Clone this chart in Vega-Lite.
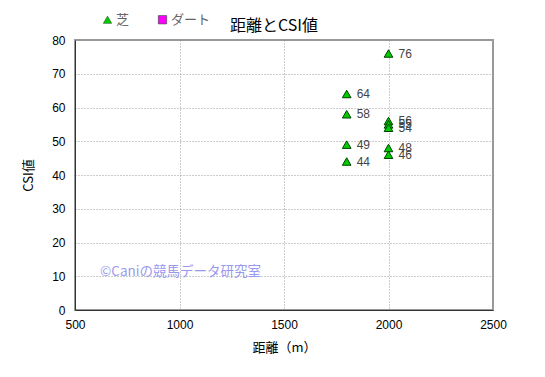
{
  "$schema": "https://vega.github.io/schema/vega-lite/v6.json",
  "width": 418,
  "height": 270,
  "autosize": {"type": "none"},
  "padding": {"left": 75, "top": 40, "right": 52, "bottom": 67},
  "background": "white",
  "title": {"text": "距離とCSI値", "anchor": "middle", "dx": -10, "offset": -21, "fontSize": 16, "fontWeight": "normal", "font": "Noto Sans CJK JP", "color": "#000000"},
  "config": {
    "view": {"stroke": "#999999", "strokeWidth": 2},
    "font": "Liberation Sans",
    "axis": {"grid": true, "gridColor": "#999999", "gridDash": [1, 2], "gridWidth": 1, "domainColor": "#333333", "domainWidth": 1, "ticks": false, "labelFlush": false, "labelFontSize": 12, "labelColor": "#000000", "titleFont": "Noto Sans CJK JP", "titleFontSize": 13, "titleFontWeight": "normal", "titleColor": "#000000"}
  },
  "datasets": {
    "pts": [
      {"course": "芝", "distance": 1800, "csi": 64},
      {"course": "芝", "distance": 1800, "csi": 58},
      {"course": "芝", "distance": 1800, "csi": 49},
      {"course": "芝", "distance": 1800, "csi": 44},
      {"course": "芝", "distance": 2000, "csi": 76},
      {"course": "芝", "distance": 2000, "csi": 56},
      {"course": "芝", "distance": 2000, "csi": 55},
      {"course": "芝", "distance": 2000, "csi": 54},
      {"course": "芝", "distance": 2000, "csi": 48},
      {"course": "芝", "distance": 2000, "csi": 46}
    ]
  },
  "encoding": {
    "x": {"field": "distance", "type": "quantitative", "scale": {"domain": [500, 2500], "nice": false, "zero": false},
      "axis": {"title": "距離（m）", "values": [500, 1000, 1500, 2000, 2500], "format": "d", "labelPadding": 9, "titlePadding": 11}},
    "y": {"field": "csi", "type": "quantitative", "scale": {"domain": [0, 80], "nice": false},
      "axis": {"title": "CSI値", "values": [0, 10, 20, 30, 40, 50, 60, 70, 80], "format": "d", "labelPadding": 10, "titlePadding": 16}}
  },
  "layer": [
    {
      "data": {"name": "pts"},
      "mark": {"type": "point", "filled": true, "stroke": "#004000", "strokeWidth": 1, "opacity": 1, "size": 75},
      "encoding": {
        "color": {"field": "course", "type": "nominal", "scale": {"domain": ["芝", "ダート"], "range": ["#00cc00", "#ff00ff"]},
          "legend": {"title": null, "orient": "none", "legendX": 26, "legendY": -27, "direction": "horizontal", "columnPadding": 26, "symbolSize": 70, "symbolStrokeWidth": 0.5, "labelFont": "Noto Sans CJK JP", "labelFontSize": 13, "labelColor": "#666666", "labelOffset": 2}},
        "shape": {"field": "course", "type": "nominal", "scale": {"domain": ["芝", "ダート"], "range": ["triangle-up", "square"]}, "legend": null}
      }
    },
    {
      "data": {"name": "pts"},
      "mark": {"type": "text", "align": "left", "dx": 10, "dy": 0, "fontSize": 12, "color": "#444444"},
      "encoding": {
        "text": {"field": "csi", "type": "quantitative"}
      }
    },
    {
      "data": {"values": [{"label": "©Caniの競馬データ研究室", "distance": 620, "csi": 11.3}]},
      "mark": {"type": "text", "align": "left", "baseline": "middle", "fontSize": 13.5, "font": "Noto Sans CJK JP", "color": "#9999ee"},
      "encoding": {
        "text": {"field": "label"}
      }
    }
  ]
}
